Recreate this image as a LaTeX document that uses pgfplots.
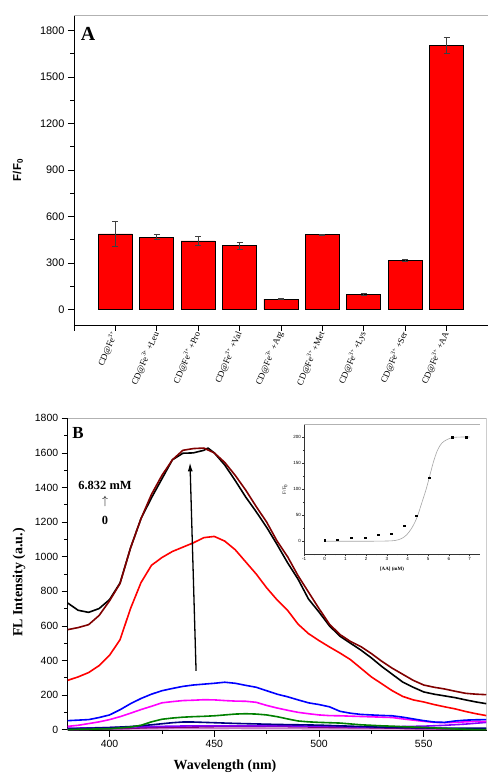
\documentclass[border=0pt]{standalone}
\usepackage{fontspec}
\setmainfont{Liberation Serif}
\newfontfamily\arial{Liberation Sans}
\usepackage{pgfplots}
\pgfplotsset{compat=1.18}
\usetikzlibrary{arrows.meta}
\definecolor{wine}{RGB}{128,0,0}
\definecolor{myred}{RGB}{255,0,0}
\definecolor{myblue}{RGB}{0,0,255}
\definecolor{mymag}{RGB}{255,0,255}
\definecolor{mygreen}{RGB}{0,128,0}
\definecolor{mynavy}{RGB}{0,0,128}
\definecolor{mypurple}{RGB}{128,0,128}
\definecolor{myviolet}{RGB}{128,0,255}
\definecolor{myplum}{RGB}{200,120,200}

\pgfplotstableread{
x y e
1 488 83
2 467 17
3 443 26
4 411 22
5 67 4
6 482 5
7 99 5
8 318 5
9 1705 50
}\barsA

\begin{document}
\begin{tikzpicture}
\useasboundingbox (0,0) rectangle (488bp,775bp);

% ---------------- Panel A ----------------
\begin{axis}[
  at={(73.9bp,450bp)}, anchor=south west,
  scale only axis, width=414bp, height=310bp,
  xmin=0, xmax=10, ymin=-100, ymax=1900,
  axis lines*=left, axis line style={-, black, line width=0.8bp},
  tick align=outside, tick style={black, line width=0.7bp},
  major tick length=6bp, minor tick length=3.5bp,
  xtick={0,1,...,10},
  xticklabels={{},{CD@Fe\textsuperscript{3+}},{CD@Fe\textsuperscript{3+}\,+Leu},{CD@Fe\textsuperscript{3+}\,+Pro},{CD@Fe\textsuperscript{3+}\,+Val},{CD@Fe\textsuperscript{3+}\,+Arg},{CD@Fe\textsuperscript{3+}\,+Met},{CD@Fe\textsuperscript{3+}\,+Lys},{CD@Fe\textsuperscript{3+}\,+Ser},{CD@Fe\textsuperscript{3+}\,+AA},{}},
  xticklabel style={font=\fontsize{9}{10}\selectfont, rotate=67, anchor=east, inner sep=1bp},
  ytick={0,300,...,1800}, minor y tick num=1,
  yticklabel style={font=\arial\fontsize{11}{12}\selectfont},
  /pgf/number format/assume math mode=true,
  /pgf/number format/1000 sep={},
  ylabel={\arial\bfseries F/F\textsubscript{0}},
  ylabel style={at={(rel axis cs:-0.1353,0.5)}, anchor=center, font=\fontsize{11.5}{12}\selectfont},
]
\addplot[ybar, bar width=34bp, fill=myred, draw=black, line width=0.6bp,
  error bars/.cd, y dir=both, y explicit,
  error bar style={black!75, line width=0.6bp},
  error mark options={rotate=90, black!75, mark size=3bp, line width=0.6bp}]
  table[x=x, y=y, y error=e] {\barsA};
\draw[gray!60, line width=0.8bp] (rel axis cs:0,1) -- (rel axis cs:1,1) -- (rel axis cs:1,0);
\end{axis}
\node[font=\bfseries\fontsize{20}{20}\selectfont] at (88bp,741bp) {A};

% ---------------- Panel B ----------------
\begin{axis}[
  at={(67.7bp,44.5bp)}, anchor=south west,
  scale only axis, width=418.8bp, height=312.2bp,
  xmin=380, xmax=580, ymin=-5, ymax=1800,
  axis lines*=left, axis line style={-, black, line width=0.8bp},
  tick align=outside, tick style={black, line width=0.7bp},
  major tick length=6bp, minor tick length=3.5bp,
  xtick={400,450,500,550}, minor x tick num=1,
  ytick={0,200,...,1800}, minor y tick num=1,
  ticklabel style={font=\arial\fontsize{10.5}{12}\selectfont},
  /pgf/number format/assume math mode=true,
  /pgf/number format/1000 sep={},
  xlabel={Wavelength (nm)}, ylabel={FL Intensity (a.u.)},
  xlabel style={at={(rel axis cs:0.3756,0)}, anchor=center, yshift=-36bp, font=\bfseries\fontsize{14}{15}\selectfont},
  ylabel style={at={(rel axis cs:-0.1163,0.474)}, anchor=center, font=\bfseries\fontsize{14}{15}\selectfont},
  every axis plot/.append style={line width=1.6bp, line join=round},
]
% low curves first
\addplot[myplum] coordinates {(380,2)(400,3)(420,5)(440,6)(460,7)(480,6)(500,5)(520,4)(540,4)(560,3)(580,3)};
\addplot[mypurple] coordinates {(380,0)(390,2)(400,5)(410,8)(420,12)(430,14)(440,15)(450,17)(460,18)(470,18)(480,18)(490,16)(500,15)(510,13)(520,12)(530,10)(540,8)(550,6)(560,5)(570,4)(580,3)};
\addplot[myviolet] coordinates {(380,8)(390,10)(400,12)(410,15)(420,18)(430,20)(440,22)(450,22)(460,22)(470,22)(480,22)(490,21)(500,20)(510,18)(520,15)(530,14)(540,18)(550,20)(560,25)(570,32)(580,42)};
\addplot[mynavy] coordinates {(380,5)(390,8)(400,12)(410,18)(420,28)(430,40)(435,44)(440,44)(450,40)(460,36)(470,33)(480,30)(490,28)(500,26)(510,22)(520,18)(530,14)(540,12)(550,10)(560,8)(570,8)(580,8)};
\addplot[mygreen] coordinates {(380,0)(385,2)(390,3)(395,4)(400,5)(405,10)(410,15)(415,25)(420,45)(425,60)(430,67)(435,72)(440,75)(445,77)(450,80)(455,85)(460,90)(465,92)(470,90)(475,85)(480,75)(485,62)(490,50)(495,45)(500,42)(505,40)(510,38)(515,33)(520,28)(525,25)(530,22)(535,20)(540,17)(545,15)(550,13)(555,10)(560,7)(565,4)(570,2)(575,0)(580,0)};
\addplot[mymag] coordinates {(380,19)(385,25)(390,35)(395,45)(400,58)(405,75)(410,95)(415,116)(420,135)(425,155)(430,162)(435,168)(440,170)(445,173)(450,172)(455,168)(460,165)(465,164)(470,158)(475,140)(480,125)(485,112)(490,100)(495,92)(500,85)(505,81)(510,80)(515,78)(520,76)(525,74)(530,72)(535,70)(540,62)(545,55)(550,48)(555,42)(560,40)(565,42)(570,45)(575,48)(580,48)};
\addplot[myblue] coordinates {(380,52)(385,55)(390,58)(395,70)(400,85)(405,115)(410,150)(415,180)(420,205)(425,225)(430,238)(435,250)(440,258)(445,263)(450,268)(455,274)(460,268)(465,256)(470,245)(475,225)(480,205)(485,190)(490,172)(495,155)(500,145)(505,132)(510,106)(515,95)(520,88)(525,85)(530,82)(535,80)(540,72)(545,62)(550,52)(555,44)(560,42)(565,50)(570,55)(575,57)(580,58)};
\addplot[myred] coordinates {(380,285)(385,305)(390,330)(395,370)(400,430)(405,520)(410,700)(415,850)(420,950)(425,995)(430,1030)(435,1055)(440,1080)(445,1110)(450,1117)(455,1090)(460,1040)(465,970)(470,900)(475,820)(480,750)(485,690)(490,610)(495,555)(500,515)(505,478)(510,443)(515,405)(520,355)(525,305)(530,265)(535,225)(540,192)(545,172)(550,160)(555,145)(560,132)(565,120)(570,105)(575,92)(580,81)};
\addplot[black] coordinates {(380,732)(385,690)(390,678)(395,700)(400,752)(405,848)(410,1050)(415,1220)(420,1340)(425,1450)(430,1560)(435,1598)(440,1600)(445,1615)(447,1628)(450,1600)(455,1530)(460,1440)(465,1345)(470,1260)(475,1170)(480,1070)(485,965)(490,870)(495,755)(500,680)(505,600)(510,540)(515,500)(520,460)(525,415)(530,365)(535,320)(540,275)(545,245)(550,218)(555,205)(560,195)(565,185)(570,172)(575,160)(580,150)};
\addplot[wine] coordinates {(380,578)(385,590)(390,607)(395,660)(400,745)(405,845)(410,1050)(415,1220)(420,1360)(425,1470)(430,1560)(435,1615)(440,1625)(445,1628)(450,1600)(455,1545)(460,1470)(465,1385)(470,1290)(475,1200)(480,1090)(485,1000)(490,890)(495,795)(500,700)(505,610)(510,550)(515,510)(520,480)(525,440)(530,395)(535,355)(540,320)(545,285)(550,258)(555,245)(560,235)(565,222)(570,210)(575,205)(580,202)};
\draw[-{Latex[length=9bp,width=5bp]}, line width=1.3bp] (axis cs:441.3,340) -- (axis cs:438.4,1545);
\draw[gray!60, line width=0.8bp] (rel axis cs:0,1) -- (rel axis cs:1,1) -- (rel axis cs:1,0);
\end{axis}
\node[font=\bfseries\fontsize{17}{17}\selectfont] at (78bp,342bp) {B};
\node[font=\bfseries\fontsize{12.5}{13}\selectfont] at (105bp,290bp) {6.832 mM};
\node[font=\fontsize{12}{13}\selectfont] at (105bp,273bp) {$\uparrow$};
\node[font=\bfseries\fontsize{12.5}{13}\selectfont] at (105bp,255bp) {0};

% ---------------- Inset ----------------
\begin{axis}[
  at={(304bp,220.7bp)}, anchor=south west,
  scale only axis, width=176bp, height=130.3bp,
  xmin=-1, xmax=7.5, ymin=-25, ymax=225,
  axis background/.style={fill=white},
  axis lines*=left, axis line style={-, black!80, line width=0.5bp},
  tick align=outside, tick style={black!80, line width=0.4bp},
  major tick length=2bp, minor tick length=1.2bp,
  xtick={-1,0,...,7}, minor x tick num=1,
  ytick={0,50,...,200}, minor y tick num=1,
  ticklabel style={font=\arial\fontsize{4.5}{5}\selectfont, inner sep=1bp},
  /pgf/number format/assume math mode=true,
  xlabel={[AA] (mM)}, ylabel={F/F\textsubscript{0}},
  xlabel style={at={(rel axis cs:0.5,0)}, anchor=center, yshift=-15bp, font=\bfseries\fontsize{5}{6}\selectfont},
  ylabel style={at={(rel axis cs:-0.108,0.5)}, anchor=center, font=\fontsize{5}{6}\selectfont},
]
\addplot[gray!70, line width=0.6bp, smooth] coordinates {(0,0)(1,0)(2,0)(3,0.5)(3.4,1.5)(3.7,5)(3.95,12)(4.2,25)(4.45,45)(4.7,75)(4.9,100)(5.05,122)(5.25,152)(5.45,175)(5.65,188)(5.9,195)(6.2,199)(6.6,200)(7,200)};
\addplot[only marks, mark=square*, mark size=0.9bp, black] coordinates {(0,1.5)(0.62,3)(1.29,7)(1.96,7)(2.57,12.5)(3.2,14.5)(3.83,30)(4.42,49)(5.06,122)(6.15,200)(6.83,200)};
\draw[gray!60, line width=0.5bp] (rel axis cs:0,1) -- (rel axis cs:1,1) -- (rel axis cs:1,0);
\end{axis}
\end{tikzpicture}
\end{document}
